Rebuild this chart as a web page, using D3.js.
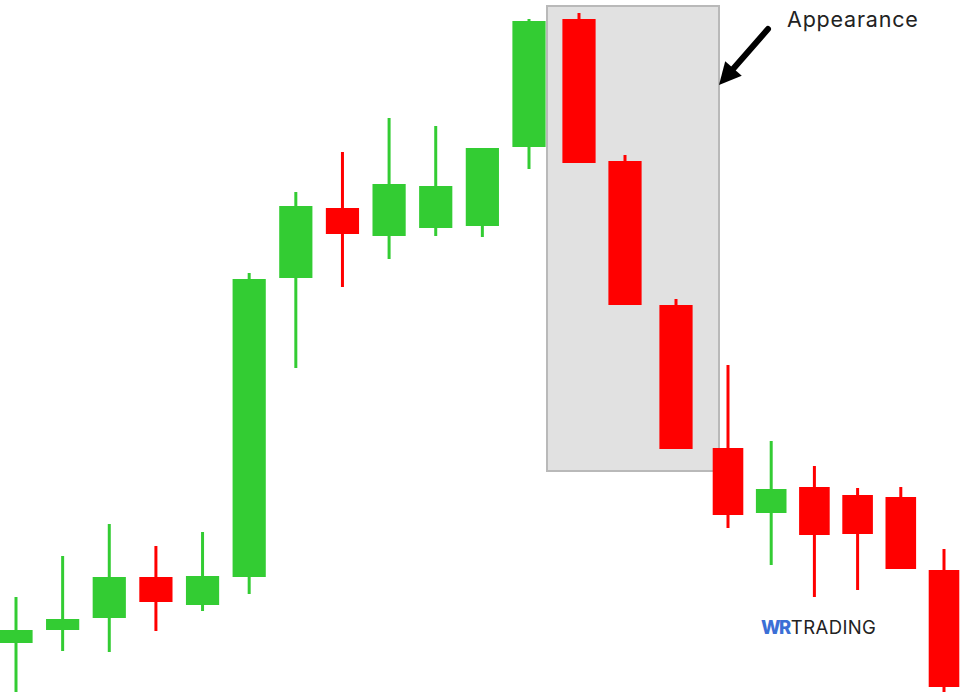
<!DOCTYPE html>
<html>
<head>
<meta charset="utf-8">
<script src="https://cdn.jsdelivr.net/npm/d3@7"></script>
<style>
  html, body { margin: 0; padding: 0; background: #ffffff; }
  svg { display: block; }
</style>
</head>
<body>
<svg id="chart" width="960" height="693"></svg>
<script>
// ---- data (price units) ----
const candleIndex = [0,1,2,3,4,5,6,7,8,9,10,11,12,13,14,15,16,17,18,19,20];
const openVals  = [57, 70, 82, 123, 95, 123, 422, 492, 464, 472, 474, 553, 681, 539, 395, 252, 187, 213, 205, 203, 130];
const highVals  = [103,144,176, 154,168, 427, 508, 548, 582, 574, 552, 681, 687, 545, 401, 335, 259, 234, 212, 213, 151];
const lowVals   = [8,  49, 48,  69, 89, 106, 332, 413, 441, 464, 463, 531, 537, 395, 251, 172, 135, 103, 110, 131, 8];
const closeVals = [70, 81, 123, 98, 124, 421, 494, 466, 516, 514, 552, 679, 537, 395, 251, 185, 211, 165, 166, 131, 13];

const highlightCandles = [12, 14];       // candles covered by the highlight box
const highlightPrice = [694, 229];       // top / bottom of the box in price units
const annotationText = "Appearance";
const logoParts = ["WR", "TRADING"];

const candles = candleIndex.map((d, i) => ({
  i: d, open: openVals[i], high: highVals[i], low: lowVals[i], close: closeVals[i]
}));

// ---- scales ----
const svg = d3.select("#chart");
const x = d3.scaleLinear()
  .domain([0, 11, 12, 13, 14, 15, 20])
  .range([16, 529, 579, 625, 676, 728, 944]);
const y = d3.scaleLinear().domain([0, 700]).range([700, 0]);

const GREEN = "#33cc33", RED = "#ff0000";
const bodyW = i => i < 15 ? 33.2 : 30.6;

// ---- highlight box ----
svg.append("rect")
  .attr("x", x(highlightCandles[0]) - 32)
  .attr("y", y(highlightPrice[0]))
  .attr("width", (x(highlightCandles[1]) + 43) - (x(highlightCandles[0]) - 32))
  .attr("height", y(highlightPrice[1]) - y(highlightPrice[0]))
  .attr("fill", "#e1e1e1")
  .attr("stroke", "#b9b9b9")
  .attr("stroke-width", 2);

// ---- candles ----
const g = svg.append("g");
g.selectAll("line.wick").data(candles).join("line")
  .attr("class", "wick")
  .attr("x1", d => x(d.i)).attr("x2", d => x(d.i))
  .attr("y1", d => y(d.high)).attr("y2", d => y(d.low))
  .attr("stroke", d => d.close >= d.open ? GREEN : RED)
  .attr("stroke-width", 3);

g.selectAll("rect.body").data(candles).join("rect")
  .attr("class", "body")
  .attr("x", d => x(d.i) - bodyW(d.i) / 2)
  .attr("width", d => bodyW(d.i))
  .attr("y", d => y(Math.max(d.open, d.close)))
  .attr("height", d => Math.max(1, Math.abs(y(d.open) - y(d.close))))
  .attr("fill", d => d.close >= d.open ? GREEN : RED);

// ---- annotation ----
svg.append("text")
  .attr("x", 787).attr("y", 27)
  .attr("font-family", "Inter, 'Open Sans', sans-serif")
  .attr("font-size", 21.5)
  .attr("letter-spacing", 0.8)
  .attr("fill", "#222")
  .text(annotationText);

const tail = [768, 29], tip = [719, 85];
const dx = tip[0] - tail[0], dy = tip[1] - tail[1];
const len = Math.hypot(dx, dy), ux = dx / len, uy = dy / len;
const headL = 22, headW = 11;
const bx = tip[0] - headL * ux, by = tip[1] - headL * uy;
svg.append("line")
  .attr("x1", tail[0]).attr("y1", tail[1])
  .attr("x2", bx + 3 * ux).attr("y2", by + 3 * uy)
  .attr("stroke", "#000").attr("stroke-width", 6).attr("stroke-linecap", "round");
svg.append("path")
  .attr("d", `M${tip[0]},${tip[1]} L${bx - uy * headW},${by + ux * headW} L${bx + uy * headW},${by - ux * headW} Z`)
  .attr("fill", "#000");

// ---- logo ----
const logo = svg.append("text")
  .attr("x", 761).attr("y", 634)
  .attr("font-family", "Inter, 'Open Sans', sans-serif")
  .attr("font-size", 18.5);
logo.append("tspan").attr("font-weight", 800).attr("fill", "#3b6fd6").attr("letter-spacing", -1.5).text(logoParts[0]);
logo.append("tspan").attr("font-weight", 400).attr("fill", "#222").attr("dx", 1).attr("letter-spacing", 0.4).text(logoParts[1]);
</script>
</body>
</html>
